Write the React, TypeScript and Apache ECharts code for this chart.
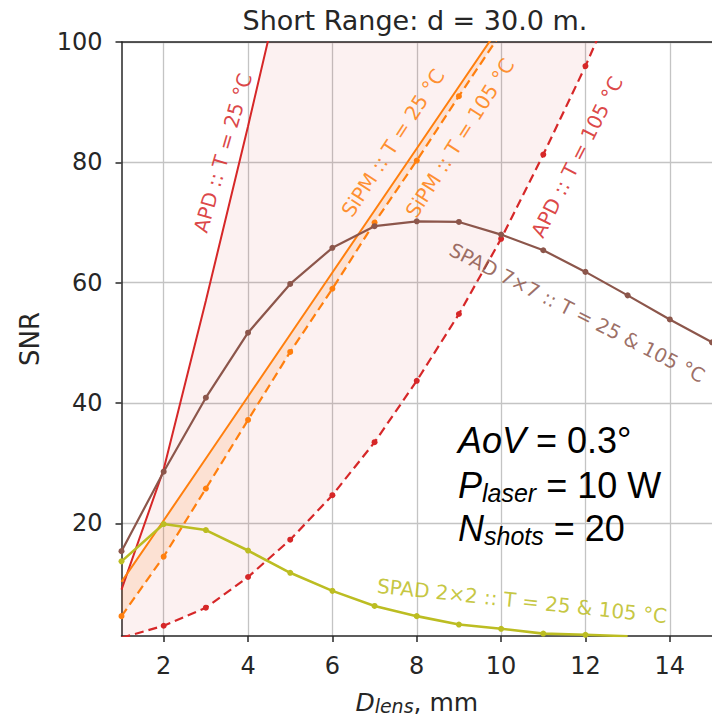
import React, { useEffect, useRef } from 'react';
import * as echarts from 'echarts';

// ---- data ----
const xTicks = [2, 4, 6, 8, 10, 12, 14];
const yTicks = [20, 40, 60, 80, 100];

const apd25X = [1, 2, 3, 4, 5];
const apd25 = [9.0, 29.0, 57.0, 86.0, 116.0];

const apd105X = [1, 2, 3, 4, 5, 6, 7, 8, 9, 10, 11, 12, 13];
const apd105 = [1.0, 3.0, 6.0, 11.1, 17.3, 24.7, 33.5, 43.7, 54.8, 67.3, 81.3, 96.0, 112.0];

const sipmX = [1, 2, 3, 4, 5, 6, 7, 8, 9, 10];
const sipm25 = [10.3, 20.5, 30.8, 41.1, 51.4, 61.7, 72.0, 82.3, 92.6, 102.9];
const sipm105 = [4.6, 14.5, 25.8, 37.2, 48.5, 59.0, 70.0, 80.3, 91.0, 101.5];

const spad7X = [1, 2, 3, 4, 5, 6, 7, 8, 9, 10, 11, 12, 13, 14, 15];
const spad7 = [15.4, 28.6, 40.9, 51.7, 59.8, 65.8, 69.4, 70.2, 70.1, 68.0, 65.4, 61.8, 57.9, 53.9, 50.1];

const spad2X = [1, 2, 3, 4, 5, 6, 7, 8, 9, 10, 11, 12, 13];
const spad2 = [13.7, 19.9, 18.9, 15.5, 11.8, 8.8, 6.3, 4.6, 3.2, 2.5, 1.7, 1.5, 1.25];

const RED = '#d62728';
const ORANGE = '#ff7f0e';
const BROWN = '#8c564b';
const OLIVE = '#bcbd22';
const INK = '#262626';
const DV = '"DejaVu Sans", sans-serif';
const LS = '"Liberation Sans", Arial, sans-serif';

const zip = (xs: number[], ys: number[]) => xs.map((x, i) => [x, ys[i]]);

const bandSeries = (xa: number[], ya: number[], xb: number[], yb: number[], fill: string) => ({
  type: 'custom',
  clip: true,
  silent: true,
  z: 1,
  data: [[xa[0], ya[0]]],
  renderItem: (_params: any, api: any) => {
    const upper = xa.map((x, i) => api.coord([x, ya[i]]));
    const lower = xb.map((x, i) => api.coord([x, yb[i]])).reverse();
    return {
      type: 'polygon',
      shape: { points: upper.concat(lower) },
      style: { fill, stroke: 'none' },
    };
  },
});

const deg = (d: number) => (d * Math.PI) / 180;

const lineLabel = (text: string, x: number, y: number, angle: number, color: string, size = 20) => ({
  type: 'text',
  x,
  y,
  rotation: deg(angle),
  z: 100,
  style: {
    text,
    fill: color,
    opacity: 0.85,
    font: `${size}px ${DV}`,
    align: 'center',
    verticalAlign: 'middle',
  },
});

const boxLine = (text: string, y: number) => ({
  type: 'text',
  x: 458,
  y,
  z: 100,
  style: {
    text,
    fill: '#000',
    verticalAlign: 'top',
    align: 'left',
    rich: {
      i: { font: `italic 36px ${LS}`, fill: '#000', lineHeight: 40 },
      n: { font: `36px ${LS}`, fill: '#000', lineHeight: 40 },
      s: { font: `italic 25px ${LS}`, fill: '#000', lineHeight: 18, verticalAlign: 'bottom' },
    },
  },
});

export default function App() {
  const ref = useRef<HTMLDivElement>(null);
  useEffect(() => {
    const chart = echarts.init(ref.current!, null, { renderer: 'svg' });
    const option: any = {
      animation: false,
      backgroundColor: '#fff',
      grid: { left: 121.5, right: 0, top: 42, bottom: 82 },
      xAxis: [
        {
          type: 'value',
          min: 1,
          max: 15,
          position: 'bottom',
          axisLine: { show: true, lineStyle: { color: INK, width: 1.5 } },
          axisTick: { show: true, length: 6, customValues: xTicks, lineStyle: { color: INK, width: 1.5 } },
          axisLabel: { customValues: xTicks, fontSize: 24, fontFamily: DV, color: INK, margin: 18 },
          splitLine: { show: true, lineStyle: { color: '#c4c4c4', width: 1.3 } },
          name: '{i|D}{s|lens}{n|, mm}',
          nameLocation: 'middle',
          nameGap: 54,
          nameTextStyle: {
            rich: {
              i: { fontSize: 25, fontFamily: DV, fontStyle: 'italic', color: INK, lineHeight: 25 },
              s: { fontSize: 19, fontFamily: DV, fontStyle: 'italic', color: INK, lineHeight: 16, verticalAlign: 'bottom' },
              n: { fontSize: 25, fontFamily: DV, color: INK, lineHeight: 25 },
            },
          },
        },
        {
          type: 'value',
          min: 1,
          max: 15,
          position: 'top',
          axisLine: { show: true, lineStyle: { color: INK, width: 1.5 } },
          axisTick: { show: false },
          axisLabel: { show: false },
          splitLine: { show: false },
        },
      ],
      yAxis: {
        type: 'value',
        min: 1.3,
        max: 100,
        axisLine: { show: true, lineStyle: { color: INK, width: 1.5 } },
        axisTick: { show: true, length: 6, customValues: yTicks, lineStyle: { color: INK, width: 1.5 } },
        axisLabel: { customValues: yTicks, fontSize: 24, fontFamily: DV, color: INK, margin: 19 },
        splitLine: { show: true, lineStyle: { color: '#c4c4c4', width: 1.3 } },
        name: 'SNR',
        nameLocation: 'middle',
        nameGap: 79,
        nameTextStyle: { fontSize: 26, fontFamily: DV, color: INK },
      },
      series: [
        bandSeries(apd25X, apd25, apd105X, apd105, 'rgba(214,39,40,0.065)'),
        bandSeries(sipmX, sipm25, sipmX, sipm105, 'rgba(255,127,14,0.13)'),
        {
          type: 'line', name: 'APD 25', data: zip(apd25X, apd25), z: 3,
          symbol: 'none', lineStyle: { color: RED, width: 2 }, itemStyle: { color: RED },
        },
        {
          type: 'line', name: 'APD 105', data: zip(apd105X, apd105), z: 3,
          symbol: 'circle', symbolSize: 6, lineStyle: { color: RED, width: 2.2, type: [9, 5] }, itemStyle: { color: RED },
        },
        {
          type: 'line', name: 'SiPM 25', data: zip(sipmX, sipm25), z: 3,
          symbol: 'none', lineStyle: { color: ORANGE, width: 2 }, itemStyle: { color: ORANGE },
        },
        {
          type: 'line', name: 'SiPM 105', data: zip(sipmX, sipm105), z: 3,
          symbol: 'circle', symbolSize: 6, lineStyle: { color: ORANGE, width: 2.2, type: [9, 5] }, itemStyle: { color: ORANGE },
        },
        {
          type: 'line', name: 'SPAD 7x7', data: zip(spad7X, spad7), z: 4,
          symbol: 'circle', symbolSize: 6, lineStyle: { color: BROWN, width: 2.2 }, itemStyle: { color: BROWN },
        },
        {
          type: 'line', name: 'SPAD 2x2', data: zip(spad2X, spad2), z: 4,
          symbol: 'circle', symbolSize: 6, lineStyle: { color: OLIVE, width: 2.6 }, itemStyle: { color: OLIVE },
        },
      ],
      graphic: [
        {
          type: 'text', x: 415, y: 20, z: 100,
          style: { text: 'Short Range: d = 30.0 m.', font: `27px ${DV}`, fill: INK, align: 'center', verticalAlign: 'middle' },
        },
        lineLabel('APD :: T = 25 °C', 223, 153, 74, RED),
        lineLabel('SiPM :: T = 25 °C', 393, 143, 57, ORANGE),
        lineLabel('SiPM :: T = 105 °C', 460, 138, 57.5, ORANGE),
        lineLabel('APD :: T = 105 °C', 577, 157, 63, RED),
        lineLabel('SPAD 7×7 :: T = 25 & 105 °C', 577, 313, -27, BROWN, 19.5),
        lineLabel('SPAD 2×2 :: T = 25 & 105 °C', 522, 601, -6, OLIVE),
        boxLine('{i|AoV}{n| = 0.3°}', 420),
        boxLine('{i|P}{s|laser}{n| = 10 W}', 465),
        boxLine('{i|N}{s|shots}{n| = 20}', 508),
      ],
    };
    chart.setOption(option);
    return () => chart.dispose();
  }, []);
  return <div ref={ref} style={{ position: 'absolute', left: 0, top: 0, width: 712, height: 720 }} />;
}
